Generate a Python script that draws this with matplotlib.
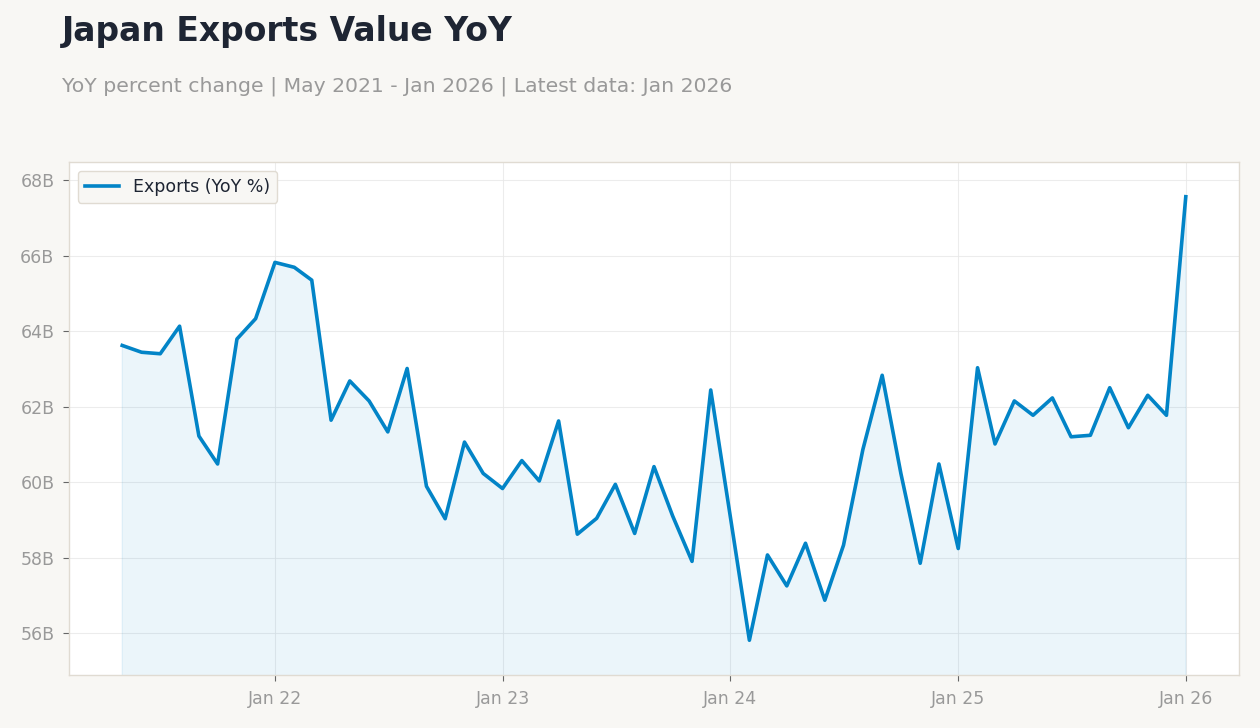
# Japan exports value chart

import matplotlib
matplotlib.use('Agg')
import matplotlib.pyplot as plt
import matplotlib.dates as mdates
import pandas as pd

# data: monthly values, May 2021 - Jan 2026 (billions)
months = pd.date_range('2021-05-01', '2026-01-01', freq='MS')
exports = [
    63.62, 63.44, 63.40, 64.13, 61.22, 60.48, 63.79, 64.33,   # 2021
    65.82, 65.69, 65.35, 61.64, 62.68, 62.15, 61.33, 63.01,   # 2022
    59.89, 59.03, 61.06, 60.23,
    59.83, 60.57, 60.03, 61.62, 58.62, 59.04, 59.94, 58.64,   # 2023
    60.41, 59.10, 57.90, 62.44,
    59.13, 55.81, 58.07, 57.25, 58.38, 56.87, 58.33, 60.86,   # 2024
    62.83, 60.23, 57.85, 60.48,
    58.24, 63.03, 61.01, 62.15, 61.77, 62.23, 61.20, 61.24,   # 2025
    62.50, 61.44, 62.30, 61.77,
    67.56,                                                    # 2026
]
y_ticks = [56, 58, 60, 62, 64, 66, 68]
series_label = 'Exports (YoY %)'
title = 'Japan Exports Value YoY'
subtitle = 'YoY percent change | May 2021 - Jan 2026 | Latest data: Jan 2026'

BG = '#f8f7f4'
LINE = '#0284c7'
EDGE = '#e0dbd2'
MUTED = '#999999'

fig = plt.figure(figsize=(12.6, 7.28), dpi=100, facecolor=BG)
ax = fig.add_axes([0.0548, 0.0728, 0.9285, 0.7047])
ax.set_facecolor('white')

ax.plot(months, exports, color=LINE, linewidth=2.6, label=series_label, zorder=3)
ax.fill_between(months, exports, 0, color=LINE, alpha=0.08, zorder=2)

ax.set_ylim(54.89, 68.48)
ax.set_yticks(y_ticks)
ax.set_yticklabels([f'{v}B' for v in y_ticks])

ax.xaxis.set_major_locator(mdates.YearLocator())
ax.xaxis.set_major_formatter(mdates.DateFormatter('%b %y'))

ax.grid(True, color='#e8e8e8', linewidth=0.8, alpha=0.8, zorder=0)
ax.set_axisbelow(True)
for s in ax.spines.values():
    s.set_color(EDGE)
    s.set_linewidth(1.0)
ax.tick_params(axis='both', colors='#666666', labelcolor=MUTED, labelsize=12.5,
               length=4.5, width=0.8, pad=6)

leg = ax.legend(loc='upper left', fontsize=12.5, frameon=True, facecolor=BG,
                edgecolor=EDGE, framealpha=1.0, handlelength=2.0)
for t in leg.get_texts():
    t.set_color('#1e2533')

fig.text(0.049, 0.957, title, fontsize=23.8, fontweight='bold', color='#1e2533',
         va='center', ha='left')
fig.text(0.049, 0.882, subtitle, fontsize=14.7, color=MUTED,
         va='center', ha='left')

fig.savefig('out.png', dpi=100, facecolor=BG)
